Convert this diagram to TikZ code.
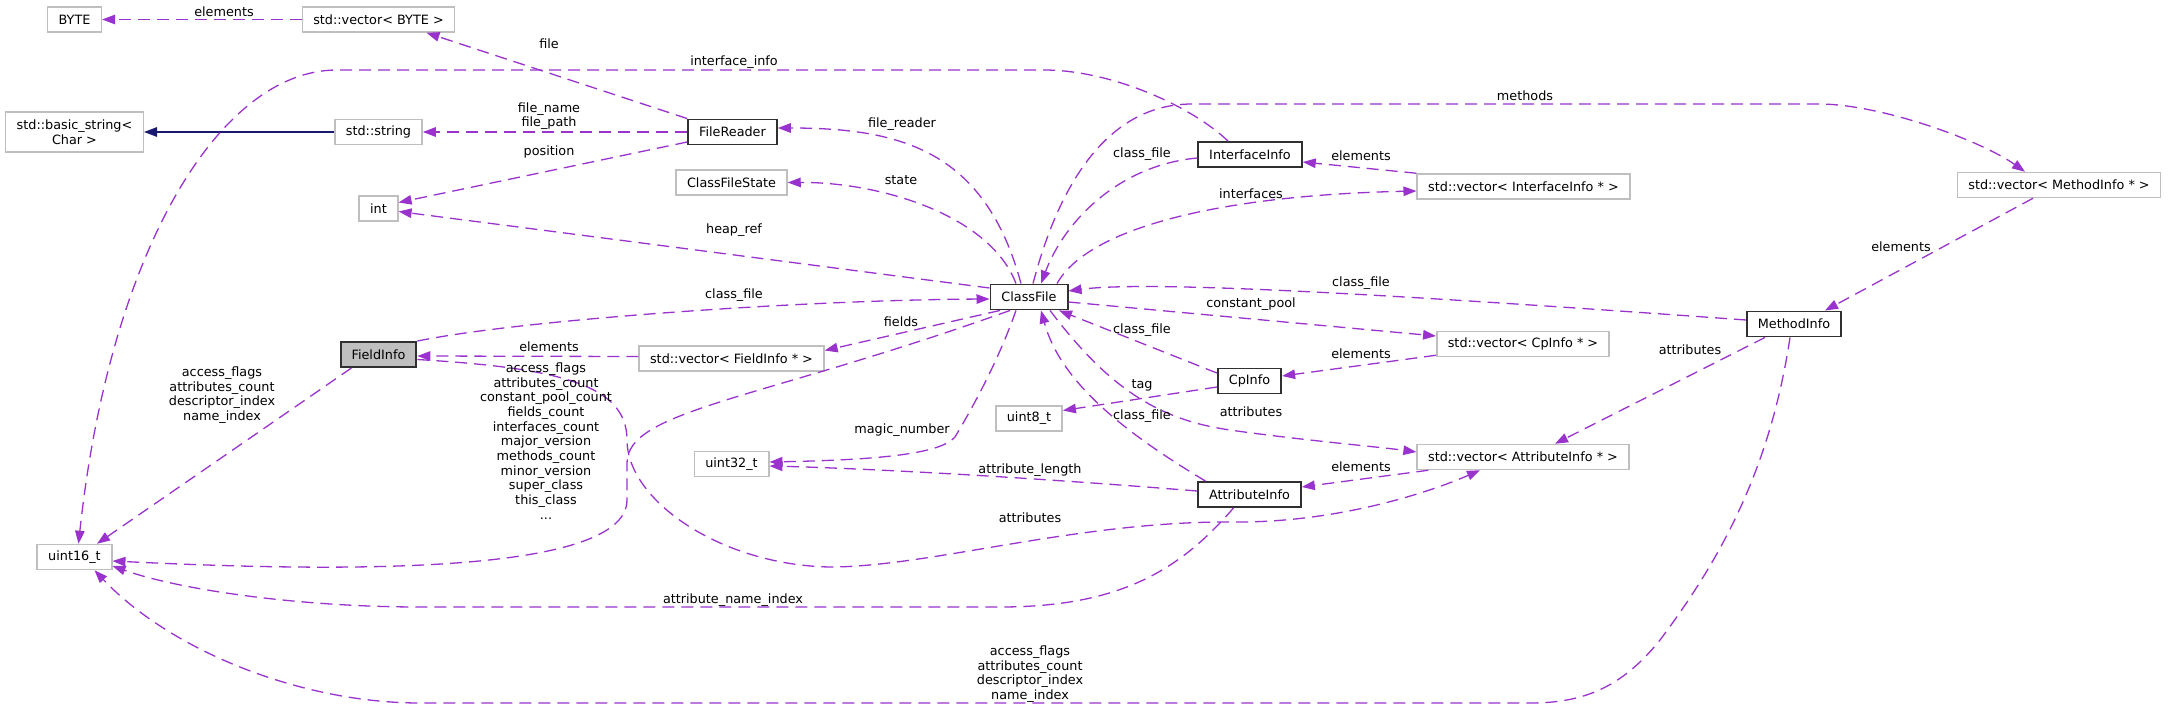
\documentclass[tikz,border=0pt]{standalone}
\usepackage{fontspec}
\setmainfont{DejaVu Sans}
\usetikzlibrary{arrows.meta}
\definecolor{EdgePurple}{HTML}{9A32CD}
\definecolor{InheritBlue}{HTML}{191970}
\definecolor{BoxGray}{HTML}{BFBFBF}
\definecolor{DocBorder}{HTML}{303030}

\begin{document}
\begin{tikzpicture}[x=1pt,y=-1pt,font=\fontsize{12.8}{14.67}\selectfont,
  ext/.style={draw=BoxGray,line width=1.5pt,inner xsep=11pt,inner ysep=0pt,minimum height=25pt,align=center},
  doc/.style={ext,draw=DocBorder,line width=1.9pt},
  cur/.style={doc,fill=BoxGray},
  member/.style={draw=EdgePurple,line width=1.3pt,dash pattern=on 12pt off 7pt,-{Triangle[length=13pt,width=9.5pt]}},
  inherit/.style={draw=InheritBlue,line width=1.3pt,-{Triangle[length=13pt,width=9.5pt]}},
  lbl/.style={inner sep=0pt,align=center}]
\useasboundingbox (0,0) rectangle (2168,709);
\node[ext] (byte) at (74.5,19.5) {BYTE};
\node[ext] (vecbyte) at (378.5,19.5) {std::vector< BYTE >};
\node[ext,minimum height=40pt] (basicstring) at (74.5,132) {std::basic\_string<\\Char >};
\node[ext] (stdstring) at (378.5,132) {std::string};
\node[ext] (int) at (378.5,208.5) {int};
\node[cur] (fieldinfo) at (378.5,354.5) {FieldInfo};
\node[ext] (uint16) at (74.5,557) {uint16\_t};
\node[doc] (filereader) at (732.5,132) {FileReader};
\node[ext] (cfstate) at (731.5,182.5) {ClassFileState};
\node[ext] (vecfieldinfo) at (731.5,358.5) {std::vector< FieldInfo * >};
\node[ext] (uint32) at (731.5,464) {uint32\_t};
\node[doc] (classfile) at (1029,297) {ClassFile};
\node[ext] (uint8) at (1029,418.5) {uint8\_t};
\node[doc] (interfaceinfo) at (1250,154.5) {InterfaceInfo};
\node[doc] (cpinfo) at (1249.5,381) {CpInfo};
\node[doc] (attributeinfo) at (1249.5,494.5) {AttributeInfo};
\node[ext] (vecinterfaceinfo) at (1523.5,186.5) {std::vector< InterfaceInfo * >};
\node[ext] (veccpinfo) at (1523,344) {std::vector< CpInfo * >};
\node[ext] (vecattributeinfo) at (1523,457) {std::vector< AttributeInfo * >};
\node[doc] (methodinfo) at (1794,324) {MethodInfo};
\node[ext] (vecmethodinfo) at (2059,185) {std::vector< MethodInfo * >};
\draw[member] (vecbyte) -- (byte);
\draw[member] (filereader.north west) -- ([xshift=48pt]vecbyte.south);
\draw[inherit] (stdstring) -- (basicstring);
\draw[member] (filereader) -- (stdstring);
\draw[member] ([yshift=-10pt]filereader.west) -- ([yshift=6pt]int.east);
\draw[member] ([yshift=9pt]classfile.west) -- ([yshift=-3pt]int.east);
\draw[member] ([xshift=-8pt]classfile.north) .. controls (985,150) and (900,128) .. ([yshift=4pt]filereader.east);
\draw[member] ([xshift=-13pt]classfile.north) .. controls (990,215) and (880,182) .. (cfstate.east);
\draw[member] ([xshift=-22pt]interfaceinfo.north) .. controls (1190,105) and (1110,70) .. (1044,70) -- (337,70)
  .. controls (220,70) and (110,250) .. ([xshift=4pt]uint16.north);
\draw[member] ([xshift=4pt]classfile.north) .. controls (1060,180) and (1110,104) .. (1192,104) -- (1819,104)
  .. controls (1880,104) and (1980,140) .. ([xshift=-34pt]vecmethodinfo.north);
\draw[member] ([yshift=-3.5pt]interfaceinfo.west) .. controls (1120,165) and (1065,220) .. ([xshift=12pt]classfile.north);
\draw[member] (vecinterfaceinfo.north west) -- ([yshift=-7.5pt]interfaceinfo.east);
\draw[member] ([xshift=28pt]classfile.north) .. controls (1090,225) and (1230,195) .. ([yshift=-4.5pt]vecinterfaceinfo.west);
\draw[member] ([yshift=4pt]methodinfo.west) .. controls (1400,295) and (1150,280) .. ([yshift=6pt]classfile.east);
\draw[member] ([yshift=-5pt]classfile.east) -- ([yshift=8pt]veccpinfo.west);
\draw[member] ([xshift=-26pt]vecmethodinfo.south) -- ([xshift=31pt]methodinfo.north);
\draw[member] (fieldinfo.north east) .. controls (520,320) and (800,300) .. ([yshift=-2pt]classfile.west);
\draw[member] ([xshift=-29pt]classfile.south) -- ([yshift=8pt]vecfieldinfo.east);
\draw[member] ([yshift=2pt]vecfieldinfo.west) -- ([yshift=-1.5pt]fieldinfo.east);
\draw[member] ([xshift=-19pt]classfile.south) .. controls (760,400) and (627,410) .. (627,463) -- (627,500)
  .. controls (627,580) and (300,570) .. ([yshift=-4pt]uint16.east);
\draw[member] ([yshift=-5pt]fieldinfo.east) .. controls (560,368) and (627,385) .. (627,440)
  .. controls (627,500) and (720,565) .. (830,567) .. controls (930,567) and (1080,520) .. (1238,522)
  .. controls (1340,522) and (1430,492) .. ([xshift=-43pt]vecattributeinfo.south);
\draw[member] ([xshift=-13pt]classfile.south) .. controls (995,370) and (965,420) .. (955,437)
  .. controls (940,455) and (870,460) .. ([yshift=2pt]uint32.east);
\draw[member] ([yshift=3.5pt]attributeinfo.west) .. controls (1000,475) and (850,468) .. ([yshift=-2pt]uint32.east);
\draw[member] ([yshift=-6pt]cpinfo.west) -- ([yshift=8pt]uint8.east);
\draw[member] ([yshift=8pt]cpinfo.west) -- ([xshift=30pt]classfile.south);
\draw[member] ([xshift=-44pt]attributeinfo.north) .. controls (1120,430) and (1060,380) .. ([xshift=12pt]classfile.south);
\draw[member] ([xshift=21pt]classfile.south) .. controls (1110,390) and (1160,420) .. (1230,430)
  .. controls (1300,440) and (1380,447) .. ([yshift=5pt]vecattributeinfo.west);
\draw[member] ([yshift=2pt]veccpinfo.south west) -- ([yshift=5pt]cpinfo.east);
\draw[member] ([xshift=12pt]vecattributeinfo.south west) -- ([yshift=7.5pt]attributeinfo.east);
\draw[member] ([xshift=-29pt]methodinfo.south) -- ([xshift=32pt]vecattributeinfo.north);
\draw[member] ([xshift=-16pt]attributeinfo.south) .. controls (1180,570) and (1120,607) .. (1000,607) -- (420,607)
  .. controls (300,607) and (180,590) .. ([yshift=-9pt]uint16.east);
\draw[member] ([xshift=-4pt]methodinfo.south) .. controls (1770,470) and (1720,560) .. (1660,640)
  .. controls (1620,690) and (1580,703) .. (1530,703) -- (420,703)
  .. controls (300,703) and (170,650) .. ([xshift=20pt]uint16.south);
\draw[member] ([xshift=-27pt]fieldinfo.south) -- ([xshift=22.5pt]uint16.north);
\node[lbl] (lelembyte) at (224,12) {elements};
\node[lbl] (lfile) at (549,44) {file};
\node[lbl] (lfilename) at (549,116) {file\_name\\file\_path};
\node[lbl] (lposition) at (549,152) {position};
\node[lbl] (lheapref) at (734,230) {heap\_ref};
\node[lbl] (lfilereader) at (902,124) {file\_reader};
\node[lbl] (lstate) at (901,180) {state};
\node[lbl] (linterfaceinfo) at (734,62) {interface\_info};
\node[lbl] (lmethods) at (1525,96) {methods};
\node[lbl] (lcfinterface) at (1142,154) {class\_file};
\node[lbl] (lelemiface) at (1361,156) {elements};
\node[lbl] (linterfaces) at (1251,194) {interfaces};
\node[lbl] (lcfmethod) at (1361,283) {class\_file};
\node[lbl] (lconstpool) at (1251,304) {constant\_pool};
\node[lbl] (lelemmethod) at (1901,247) {elements};
\node[lbl] (lcffield) at (734,295) {class\_file};
\node[lbl] (lfields) at (901,322) {fields};
\node[lbl] (lelemfield) at (549,347) {elements};
\node[lbl] (lcfmembers) at (546,441) {access\_flags\\attributes\_count\\constant\_pool\_count\\fields\_count\\interfaces\_count\\major\_version\\methods\_count\\minor\_version\\super\_class\\this\_class\\...};
\node[lbl] (lfieldmembers) at (222,395) {access\_flags\\attributes\_count\\descriptor\_index\\name\_index};
\node[lbl] (lattrfield) at (1030,518) {attributes};
\node[lbl] (lmagic) at (902,430) {magic\_number};
\node[lbl] (lattrlen) at (1030,470) {attribute\_length};
\node[lbl] (ltag) at (1142,385) {tag};
\node[lbl] (lcfcp) at (1142,330) {class\_file};
\node[lbl] (lcfattr) at (1142,416) {class\_file};
\node[lbl] (lattrcf) at (1251,412) {attributes};
\node[lbl] (lelemcp) at (1361,354) {elements};
\node[lbl] (lelemattr) at (1361,467) {elements};
\node[lbl] (lattrmethod) at (1690,350) {attributes};
\node[lbl] (lattrname) at (733,600) {attribute\_name\_index};
\node[lbl] (lmethodmembers) at (1030,674) {access\_flags\\attributes\_count\\descriptor\_index\\name\_index};
\end{tikzpicture}
\end{document}
